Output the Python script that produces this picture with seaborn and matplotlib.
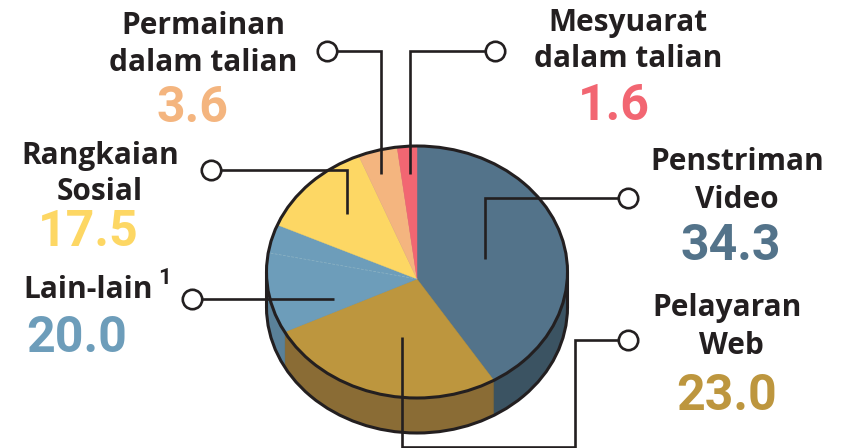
import numpy as np
import pandas as pd
import matplotlib
matplotlib.use('Agg')
import matplotlib.pyplot as plt
import matplotlib.patches as mpatches
import seaborn as sns

categories = ['Penstriman Video', 'Pelayaran Web', 'Lain-lain', 'Rangkaian Sosial',
              'Permainan dalam talian', 'Mesyuarat dalam talian']
# numbers printed next to the slices
printed_values = ['34.3', '23.0', '20.0', '17.5', '3.6', '1.6']
# slice sizes as they look in the picture, they do not follow the printed numbers
slice_shares = [41.0, 26.9, 14.0, 12.1, 4.0, 2.0]
top_colors = ['#53738a', '#bd963e', '#6d9dba', '#fdd764', '#f4b57f', '#f26672']
side_colors = ['#3b5362', '#8a6c35', '#5a8199', '#5a8199', '#5a8199', '#5a8199']

df = pd.DataFrame({'category': categories, 'share': slice_shares, 'printed': printed_values})

sns.set_theme(style='white')
plt.rcParams['font.family'] = ['Roboto', 'DejaVu Sans']
INK = '#231f20'

W, H = 845, 448
SQUASH = 126 / 150.5
CX, APEX_Y, RIM_Y, RX, DEPTH = 417, 279, 272, 150.5, 35


def ypie(py):
    return (H - py) / SQUASH


fig = plt.figure(figsize=(W / 100, H / 100), dpi=100)
ax_pie = fig.add_axes([0, 0, 1, 1])


def draw_pie(colors, shift, z):
    wedges, _ = ax_pie.pie(df['share'], colors=sns.color_palette(colors), startangle=90,
                           counterclock=False, radius=420, center=(CX, ypie(APEX_Y + shift)),
                           wedgeprops={'linewidth': 0.3, 'zorder': z}, normalize=True)
    clip = mpatches.Circle((CX, ypie(RIM_Y + shift)), RX, transform=ax_pie.transData)
    for w, c in zip(wedges, colors):
        w.set_edgecolor(c)
        w.set_clip_on(True)
        w.set_clip_path(clip)
        w.set_zorder(z)


# side of the disc, stacked from the bottom up
for d in range(DEPTH, 0, -1):
    draw_pie(side_colors, d, 1)
draw_pie(top_colors, 0, 2)

ax_pie.set_aspect('auto')
ax_pie.set_xlim(0, W)
ax_pie.set_ylim(0, H / SQUASH)
ax_pie.set_frame_on(False)
ax_pie.set_xticks([])
ax_pie.set_yticks([])

ax_pie.add_patch(mpatches.Circle((CX, ypie(RIM_Y)), RX, fill=False, ec=INK, lw=2.2, zorder=3))
ax_pie.add_patch(mpatches.Arc((CX, ypie(RIM_Y + DEPTH)), 2 * RX, 2 * RX, theta1=180, theta2=360,
                              ec=INK, lw=2.2, zorder=3))

# overlay in pixel coordinates for the leaders and the text
ax = fig.add_axes([0, 0, 1, 1])
ax.set_xlim(0, W)
ax.set_ylim(H, 0)
ax.axis('off')
ax.patch.set_alpha(0)

for x in [CX - RX, CX + RX]:
    ax.plot([x, x], [RIM_Y, RIM_Y + DEPTH], color=INK, lw=2.2, zorder=3)

ax.plot([CX, 270], [APEX_Y, 253], color='#8fb4c4', lw=0.5, ls=(0, (4, 2)), zorder=3)

leaders = [
    ([327, 381, 381], [51, 51, 174]),
    ([495, 410, 410], [51, 51, 174]),
    ([628, 485, 485], [198, 198, 259]),
    ([211, 347, 347], [170, 170, 214]),
    ([192, 334], [299, 299]),
    ([628, 575, 575, 402, 402], [340, 340, 447, 447, 337]),
]
for xs, ys in leaders:
    ax.plot(xs, ys, color=INK, lw=1.9, solid_joinstyle='miter', solid_capstyle='butt', zorder=4)
    ax.plot(xs[0], ys[0], 'o', ms=14, mfc='white', mec=INK, mew=1.9, zorder=5)

name_style = dict(ha='center', va='center', color=INK, fontsize=21.5, fontweight='bold',
                  family=['Open Sans', 'DejaVu Sans'])
num_style = dict(ha='center', va='center', fontsize=36, fontweight='bold')

names = [
    (737, 162, 'Penstriman'), (737, 200, 'Video'),
    (727, 308, 'Pelayaran'), (731, 346, 'Web'),
    (88, 290, 'Lain-lain'),
    (100, 156, 'Rangkaian'), (100, 192, 'Sosial'),
    (203, 26, 'Permainan'), (203, 63, 'dalam talian'),
    (628, 23, 'Mesyuarat'), (628, 59, 'dalam talian'),
]
for x, y, s in names:
    ax.text(x, y, s, **name_style)
ax.text(165, 278, '1', ha='center', va='center', color=INK, fontsize=16, fontweight='bold')

num_xy = [(731, 247), (727, 397), (77, 338), (88, 233), (193, 108), (614, 106)]
for (x, y), s, c in zip(num_xy, printed_values, top_colors):
    ax.text(x, y, s, color=c, **num_style)

fig.savefig('out.png', dpi=100, facecolor='white')
